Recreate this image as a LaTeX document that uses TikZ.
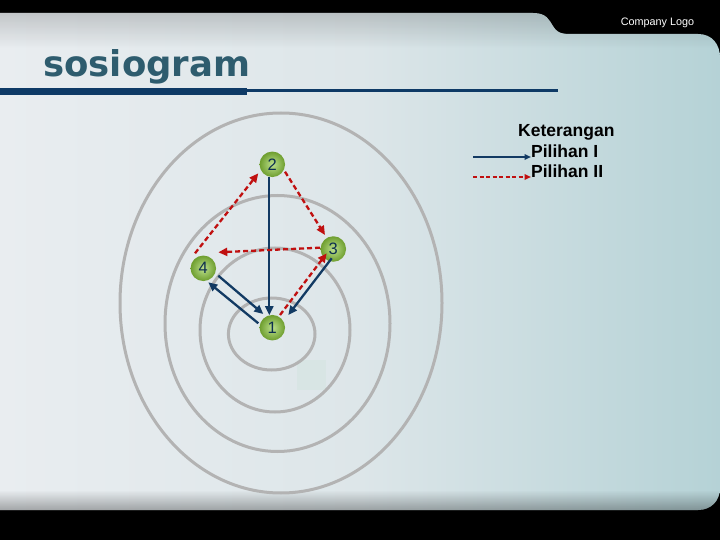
\documentclass[tikz,border=0pt]{standalone}
\usepackage{fontspec}
\setmainfont{Liberation Sans}
\newfontfamily\titlefont{DejaVu Sans}
\usetikzlibrary{arrows.meta,calc,fadings}
\definecolor{navy}{HTML}{123A63}
\definecolor{redd}{HTML}{C01010}
\definecolor{ringc}{HTML}{B3B3B3}
\definecolor{titlec}{HTML}{2E5C6E}
\definecolor{barc}{HTML}{0E3A66}
\definecolor{panelL}{HTML}{E9EDF0}
\definecolor{panelM}{HTML}{DDE6E9}
\definecolor{panelR}{HTML}{B5D2D6}
\definecolor{greenin}{HTML}{BCE08E}
\definecolor{greenout}{HTML}{6E9E2E}
\definecolor{numc}{HTML}{0D2F4F}
\definecolor{sqc}{HTML}{D8E5E4}
\begin{document}
\begin{tikzpicture}[x=1pt,y=-1pt,
  ring/.style={draw=ringc,line width=3pt},
  nd/.style={circle,minimum size=25.5pt,inner sep=0pt,outer sep=0pt,
    inner color=greenin,outer color=greenout,text=numc,
    font=\fontsize{16.5}{16}\selectfont},
  pil1/.style={draw=navy,line width=2.3pt,-{Triangle[length=9pt,width=8pt]}},
  pil2/.style={draw=redd,line width=2.3pt,dash pattern=on 5pt off 3pt,
    -{Triangle[length=9pt,width=8pt]}},
  leg1/.style={draw=navy,line width=1.6pt,-{Triangle[length=6.5pt,width=5.5pt]}},
  leg2/.style={draw=redd,line width=1.6pt,dash pattern=on 4pt off 2.5pt,
    -{Triangle[length=6.5pt,width=5.5pt]}},
  legtext/.style={anchor=base west,inner sep=0pt,text=black,
    font=\bfseries\fontsize{17.5}{20}\selectfont}
]
\useasboundingbox (0,0) rectangle (720,540);
% background
\fill[black] (0,0) rectangle (720,540);
\begin{scope}
  \clip (0,13) -- (533,13) .. controls (547,13) and (549,20) .. (553,26)
    .. controls (556,31) and (559,34) .. (570,34) -- (698,34)
    .. controls (712,34) and (720,44) .. (720,58) -- (720,488)
    .. controls (720,501) and (711,510) .. (698,510) -- (0,510) -- cycle;
  \shade[left color=panelL,right color=panelR,middle color=panelM] (0,13) rectangle (720,510);
  \fill[black,opacity=0.16,path fading=south] (0,13) rectangle (720,48);
  \fill[black,opacity=0.3,path fading=north] (0,490) rectangle (720,510);
\end{scope}
% header
\node[anchor=base west,inner sep=0pt,text=titlec,
  font=\titlefont\bfseries\fontsize{35.5}{40}\selectfont] (title) at (43,77) {sosiogram};
\coordinate (bar0) at (0,91.5);
\coordinate (bar1) at (247,91.5);
\coordinate (bar2) at (247,90.5);
\coordinate (bar3) at (558,90.5);
\draw[barc,line width=7pt] (bar0) -- (bar1);
\draw[barc,line width=3pt] (bar2) -- (bar3);
\node[text=white,font=\fontsize{10.8}{12}\selectfont] (logo) at (657.5,23) {Company Logo};
% small square, then rings
\fill[sqc] (297,360) rectangle (326,390);
\draw[ring] (281,303) ellipse [x radius=161,y radius=190];
\draw[ring] (277.5,323.5) ellipse [x radius=112.5,y radius=128];
\draw[ring] (275,330) ellipse [x radius=75,y radius=82];
\draw[ring] (271.7,334) ellipse [x radius=43.3,y radius=36];
% nodes
\node[nd] (n1) at (272.3,327.7) {1};
\node[nd] (n2) at (272.3,164.3) {2};
\node[nd] (n3) at (333.3,249) {3};
\node[nd] (n4) at (203.3,268.3) {4};
% first choices
\draw[pil1] ($(n2)+(-3,12.5)$) -- ($(n1)+(-3,-12.5)$);
\draw[pil1] ($(n4)+(15,7.4)$) -- ($(n1)+(-9,-13.7)$);
\draw[pil1] ($(n1)+(-14,-4.4)$) -- ($(n4)+(5,14)$);
\draw[pil1] ($(n3)+(-1.6,9.3)$) -- ($(n1)+(16,-12.7)$);
% second choices
\draw[pil2] ($(n1)+(7.7,-12.7)$) -- ($(n3)+(-6.6,4.3)$);
\draw[pil2] ($(n3)+(-13.3,-1.3)$) -- ($(n4)+(15,-16)$);
\draw[pil2] ($(n4)+(-8.3,-15)$) -- ($(n2)+(-14,9)$);
\draw[pil2] ($(n2)+(12.7,7.4)$) -- ($(n3)+(-8.3,-14)$);
% legend
\node[legtext] (ket) at (518,137) {Keterangan};
\node[legtext] (p1) at (531,158) {Pilihan I};
\node[legtext] (p2) at (531,178) {Pilihan II};
\coordinate (l1s) at (473,157);
\coordinate (l1e) at (531,157);
\coordinate (l2s) at (473,177);
\coordinate (l2e) at (531,177);
\draw[leg1] (l1s) -- (l1e);
\draw[leg2] (l2s) -- (l2e);
\end{tikzpicture}
\end{document}
